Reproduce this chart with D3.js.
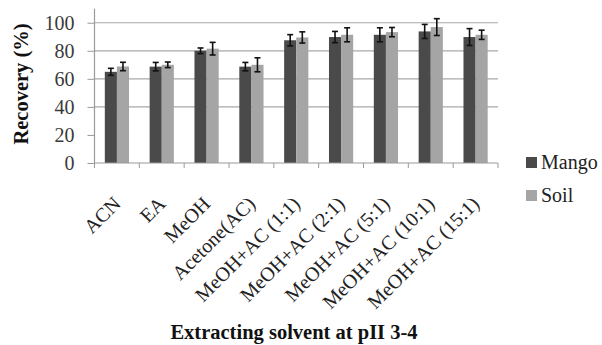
<!DOCTYPE html>
<html>
<head>
<meta charset="utf-8">
<script src="https://cdn.jsdelivr.net/npm/d3@7"></script>
<style>
  body { margin: 0; background: #fff; }
  text { font-family: "Liberation Serif", "Times New Roman", serif; }
</style>
</head>
<body>
<div class="chart"></div>
<script>
// data
const categories = ["ACN", "EA", "MeOH", "Acetone(AC)", "MeOH+AC (1:1)", "MeOH+AC (2:1)",
  "MeOH+AC (5:1)", "MeOH+AC (10:1)", "MeOH+AC (15:1)"];
const seriesNames = ["Mango", "Soil"];
const mangoValues = [65, 68.7, 80, 68.7, 87.5, 89.8, 91.4, 93.8, 89.8];
const mangoErrors = [2.5, 3, 2, 3, 4, 4, 5, 5, 6];
const soilValues = [68.8, 70, 81.5, 70, 89.5, 91.4, 93.3, 96.9, 91.4];
const soilErrors = [3, 2, 4.5, 5, 4, 5, 3.3, 6, 3.3];
const yTickValues = [0, 20, 40, 60, 80, 100];
const gridValues = [40, 60, 80, 100];

const width = 602, height = 345;
const margin = { top: 8.7, right: 104, bottom: 182, left: 94.5 };
const colors = { Mango: "#4a4a4a", Soil: "#a5a5a5" };

const svg = d3.select(".chart").append("svg")
  .attr("width", width)
  .attr("height", height);

const chartWidth = width - margin.left - margin.right;
const chartHeight = height - margin.top - margin.bottom;

const x = d3.scaleBand().domain(categories).range([0, chartWidth]).paddingInner(0.46).paddingOuter(0.23);
const xs = d3.scaleBand().domain(seriesNames).range([0, x.bandwidth()]);
const y = d3.scaleLinear().domain([0, 110]).range([chartHeight, 0]);

const g = svg.append("g").attr("transform", `translate(${margin.left},${margin.top})`);

// gridlines
g.selectAll(".grid").data(gridValues).enter().append("line")
  .attr("x1", 0).attr("x2", chartWidth)
  .attr("y1", d => y(d)).attr("y2", d => y(d))
  .attr("stroke", "#a8a8a8").attr("stroke-width", 1.2);

// bars
const rows = categories.map((c, i) => ({
  cat: c,
  vals: [
    { s: "Mango", v: mangoValues[i], e: mangoErrors[i] },
    { s: "Soil", v: soilValues[i], e: soilErrors[i] }
  ]
}));

const grp = g.selectAll(".grp").data(rows).enter().append("g")
  .attr("transform", d => `translate(${x(d.cat)},0)`);

grp.selectAll("rect").data(d => d.vals).enter().append("rect")
  .attr("x", d => xs(d.s))
  .attr("y", d => y(d.v))
  .attr("width", xs.bandwidth())
  .attr("height", d => chartHeight - y(d.v))
  .attr("fill", d => colors[d.s]);

// error bars
const cx = d => xs(d.s) + xs.bandwidth() / 2;
const eb = grp.selectAll(".err").data(d => d.vals).enter().append("g")
  .attr("stroke", "#111").attr("stroke-width", 1.6);
eb.append("line")
  .attr("x1", cx).attr("x2", cx)
  .attr("y1", d => y(d.v + d.e)).attr("y2", d => y(d.v - d.e));
eb.append("line")
  .attr("x1", d => cx(d) - 3).attr("x2", d => cx(d) + 3)
  .attr("y1", d => y(d.v + d.e)).attr("y2", d => y(d.v + d.e));
eb.append("line")
  .attr("x1", d => cx(d) - 3).attr("x2", d => cx(d) + 3)
  .attr("y1", d => y(d.v - d.e)).attr("y2", d => y(d.v - d.e));

// y axis
const yAxis = d3.axisLeft(y).tickValues(yTickValues).tickSize(7).tickPadding(13);
const yg = g.append("g").call(yAxis).attr("font-size", 20);
yg.select(".domain").attr("stroke", "#9a9a9a").attr("stroke-width", 1.2)
  .attr("d", `M-0,${chartHeight}V0`);
yg.selectAll(".tick line").attr("stroke", "#9a9a9a");
yg.selectAll(".tick text").attr("fill", "#3a3a3a");

// x axis: ticks at category boundaries
const bounds = d3.range(categories.length + 1).map(i => i * chartWidth / categories.length);
const xg = g.append("g").attr("transform", `translate(0,${chartHeight})`);
xg.append("line").attr("x1", 0).attr("x2", chartWidth).attr("stroke", "#9a9a9a").attr("stroke-width", 1.2);
xg.selectAll(".bt").data(bounds).enter().append("line")
  .attr("x1", d => d).attr("x2", d => d).attr("y1", 0).attr("y2", 5)
  .attr("stroke", "#9a9a9a");

xg.selectAll(".lbl").data(categories).enter().append("text")
  .attr("transform", d => `translate(${x(d) + x.bandwidth() / 2 + 5},${42}) rotate(-45)`)
  .attr("text-anchor", "end")
  .attr("font-size", 20)
  .attr("fill", "#222")
  .text(d => d);

// axis titles
svg.append("text")
  .attr("transform", `translate(28,84) rotate(-90)`)
  .attr("text-anchor", "middle")
  .attr("font-size", 20.5).attr("font-weight", "bold").attr("fill", "#111")
  .text("Recovery (%)");

svg.append("text")
  .attr("x", 294).attr("y", 339)
  .attr("text-anchor", "middle")
  .attr("font-size", 20.5).attr("font-weight", "bold").attr("fill", "#111")
  .text("Extracting solvent at pII 3-4");

// legend
const lg = svg.append("g").attr("transform", "translate(526,157)");
const li = lg.selectAll(".li").data(seriesNames).enter().append("g")
  .attr("transform", (d, i) => `translate(0,${i * 33})`);
li.append("rect").attr("width", 11).attr("height", 11).attr("fill", d => colors[d]);
li.append("text").attr("x", 15).attr("y", 12)
  .attr("font-size", 20).attr("fill", "#222").text(d => d);
</script>
</body>
</html>
